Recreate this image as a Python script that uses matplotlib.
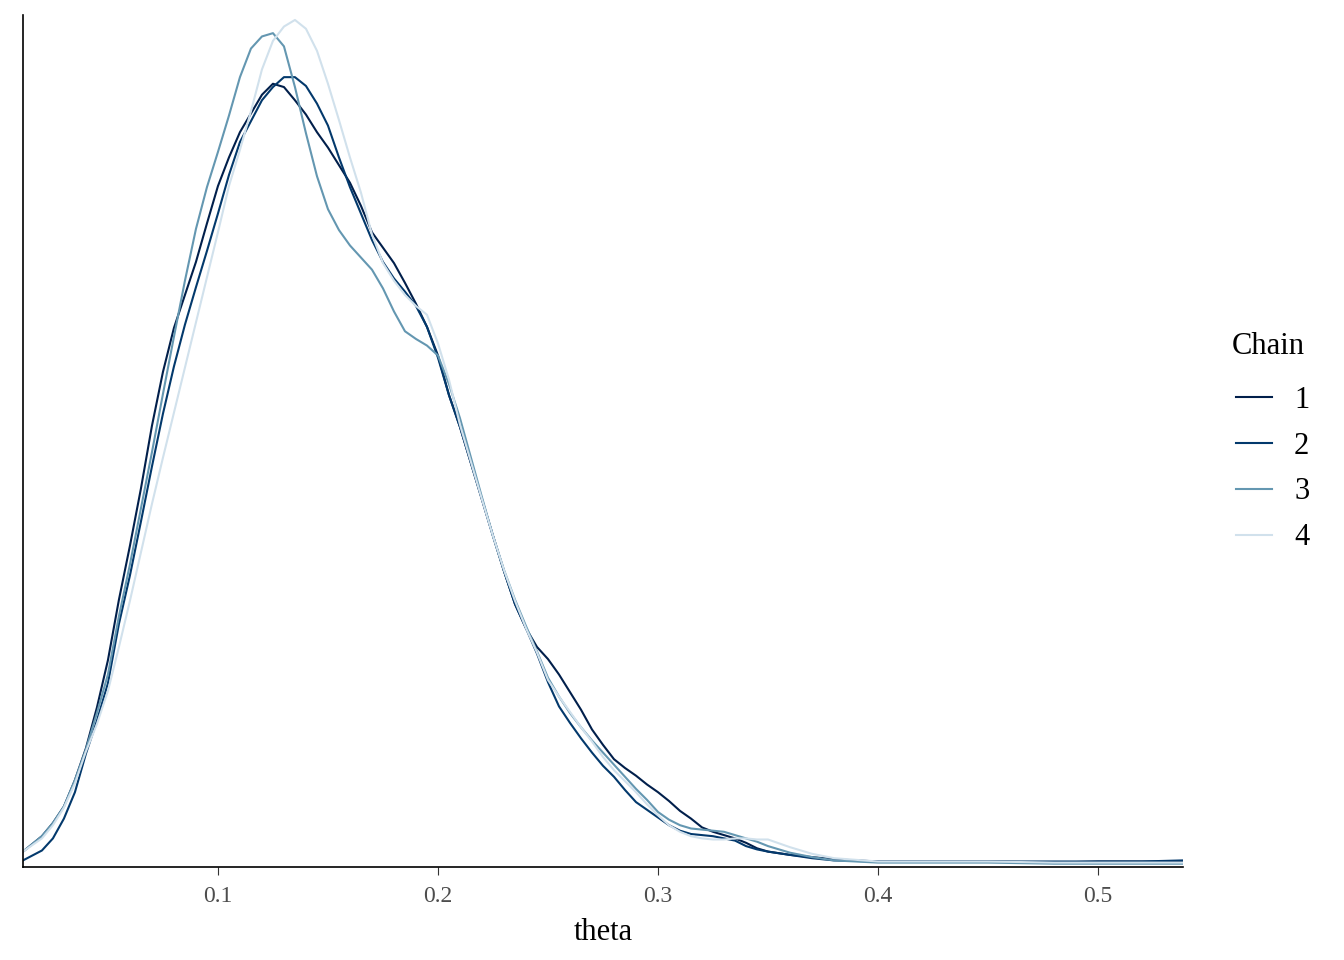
import matplotlib
matplotlib.use("Agg")
import matplotlib.pyplot as plt

plt.rcParams["font.family"] = ["Liberation Serif", "DejaVu Serif"]

theta = [0.0114, 0.02, 0.025, 0.03, 0.035, 0.04, 0.045, 0.05, 0.055, 0.06,
         0.065, 0.07, 0.075, 0.08, 0.085, 0.09, 0.095, 0.10, 0.105, 0.11,
         0.115, 0.12, 0.125, 0.13, 0.135, 0.14, 0.145, 0.15, 0.155, 0.16,
         0.165, 0.17, 0.175, 0.18, 0.185, 0.19, 0.195, 0.20, 0.205, 0.21,
         0.215, 0.22, 0.225, 0.23, 0.235, 0.24, 0.245, 0.25, 0.255, 0.26,
         0.265, 0.27, 0.275, 0.28, 0.285, 0.29, 0.295, 0.30, 0.305, 0.31,
         0.315, 0.32, 0.325, 0.33, 0.335, 0.34, 0.345, 0.35, 0.36, 0.37,
         0.38, 0.40, 0.42, 0.45, 0.48, 0.50, 0.52, 0.5386]

# posterior density of each chain
chain1 = [0.14, 0.28, 0.40, 0.55, 0.79, 1.08, 1.45, 1.88, 2.43, 2.92,
          3.44, 4.01, 4.50, 4.90, 5.20, 5.50, 5.85, 6.19, 6.45, 6.68,
          6.85, 7.02, 7.12, 7.09, 6.97, 6.84, 6.68, 6.54, 6.38, 6.22,
          6.01, 5.77, 5.63, 5.49, 5.31, 5.12, 4.91, 4.65, 4.29, 4.00,
          3.67, 3.34, 3.01, 2.69, 2.39, 2.17, 2.00, 1.89, 1.75, 1.59,
          1.43, 1.25, 1.11, 0.98, 0.90, 0.83, 0.75, 0.68, 0.60, 0.51,
          0.44, 0.36, 0.32, 0.29, 0.26, 0.22, 0.17, 0.14, 0.11, 0.09,
          0.07, 0.05, 0.05, 0.05, 0.04, 0.05, 0.05, 0.05]
chain2 = [0.06, 0.15, 0.26, 0.44, 0.68, 1.03, 1.33, 1.67, 2.21, 2.65,
          3.14, 3.64, 4.12, 4.55, 4.93, 5.27, 5.60, 5.94, 6.29, 6.59,
          6.78, 6.97, 7.09, 7.18, 7.18, 7.10, 6.94, 6.74, 6.45, 6.18,
          5.94, 5.70, 5.50, 5.35, 5.23, 5.10, 4.91, 4.63, 4.29, 4.00,
          3.67, 3.34, 3.01, 2.69, 2.39, 2.17, 1.94, 1.68, 1.46, 1.31,
          1.17, 1.04, 0.92, 0.82, 0.70, 0.59, 0.52, 0.45, 0.38, 0.33,
          0.30, 0.29, 0.28, 0.26, 0.24, 0.19, 0.16, 0.14, 0.11, 0.08,
          0.06, 0.05, 0.05, 0.05, 0.05, 0.05, 0.05, 0.06]
chain3 = [0.14, 0.28, 0.40, 0.55, 0.79, 1.07, 1.40, 1.75, 2.28, 2.75,
          3.26, 3.77, 4.30, 4.82, 5.33, 5.80, 6.18, 6.50, 6.83, 7.18,
          7.44, 7.55, 7.58, 7.46, 7.09, 6.67, 6.28, 5.98, 5.79, 5.65,
          5.54, 5.43, 5.26, 5.05, 4.87, 4.80, 4.74, 4.65, 4.39, 4.08,
          3.72, 3.36, 3.01, 2.70, 2.43, 2.19, 1.96, 1.72, 1.55, 1.40,
          1.27, 1.15, 1.04, 0.93, 0.82, 0.71, 0.61, 0.50, 0.43, 0.38,
          0.35, 0.34, 0.33, 0.32, 0.29, 0.26, 0.23, 0.19, 0.13, 0.09,
          0.06, 0.04, 0.04, 0.04, 0.03, 0.03, 0.03, 0.03]
chain4 = [0.14, 0.26, 0.38, 0.54, 0.76, 1.05, 1.30, 1.60, 2.00, 2.42,
          2.86, 3.30, 3.72, 4.13, 4.54, 4.95, 5.36, 5.77, 6.19, 6.52,
          6.87, 7.25, 7.51, 7.64, 7.70, 7.62, 7.42, 7.12, 6.79, 6.45,
          6.13, 5.75, 5.49, 5.33, 5.20, 5.10, 5.02, 4.76, 4.43, 4.02,
          3.68, 3.34, 3.01, 2.70, 2.42, 2.17, 1.95, 1.70, 1.55, 1.41,
          1.27, 1.14, 1.00, 0.88, 0.78, 0.68, 0.57, 0.47, 0.38, 0.32,
          0.28, 0.26, 0.25, 0.25, 0.26, 0.26, 0.25, 0.25, 0.18, 0.12,
          0.08, 0.05, 0.05, 0.05, 0.04, 0.04, 0.04, 0.04]

chains = ["1", "2", "3", "4"]
colors = ["#011f4b", "#03396c", "#6497b1", "#d1e1ec"]
xticks = [0.1, 0.2, 0.3, 0.4, 0.5]

fig = plt.figure(figsize=(13.44, 9.6), dpi=100)
ax = fig.add_axes([23 / 1344, 1 - 867 / 960, 1160 / 1344, 852 / 960])

for lab, dens, col in zip(chains, [chain1, chain2, chain3, chain4], colors):
    ax.plot(theta, dens, color=col, lw=1.5, label=lab,
            solid_joinstyle="round")

ax.set_xlim(0.0114, 0.5386)
ax.set_ylim(0, 7.745)
ax.set_xticks(xticks)
ax.set_xticklabels([str(t) for t in xticks])
ax.set_yticks([])
ax.tick_params(axis="x", length=5.5, width=0.8, color="#333333",
               labelcolor="#4d4d4d", labelsize=17, pad=8)
for side in ["top", "right"]:
    ax.spines[side].set_visible(False)
for side in ["left", "bottom"]:
    ax.spines[side].set_linewidth(1.2)
ax.set_xlabel("theta", fontsize=22, labelpad=8)

# legend: title drawn as text so the gap matches ggplot's
fig.text(1232 / 1344, 1 - 347 / 960, "Chain", fontsize=22,
         ha="left", va="center")
ax.legend(loc="center left", bbox_to_anchor=(1236 / 1344, 1 - 469 / 960),
          bbox_transform=fig.transFigure, frameon=False, fontsize=22,
          handlelength=1.18, handletextpad=0.72, labelspacing=0.55,
          borderpad=0, borderaxespad=0)

fig.savefig("out.png", dpi=100)
